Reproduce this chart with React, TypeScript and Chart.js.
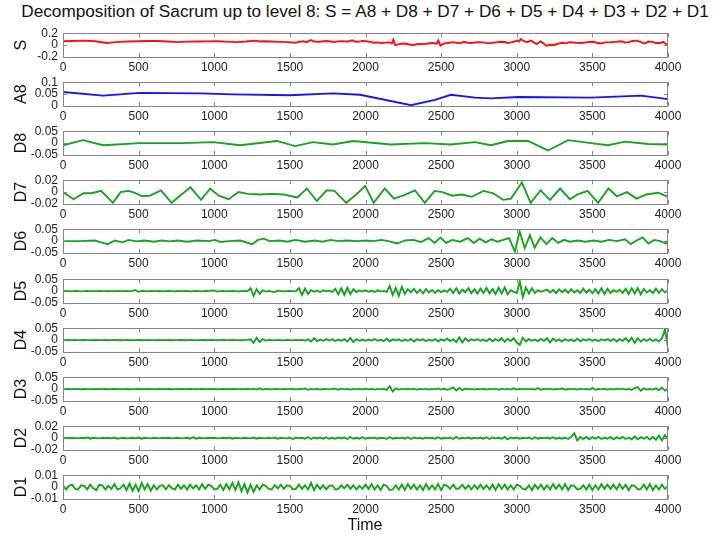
import React, { useEffect, useRef } from 'react';
import { Chart, registerables } from 'chart.js';

Chart.register(...registerables);

// ---------- data ----------
const X_MIN = 0;
const X_MAX = 4000;
const X_TICKS = [0, 500, 1000, 1500, 2000, 2500, 3000, 3500, 4000];

const TITLE = 'Decomposition of Sacrum up to level 8: S = A8 + D8 + D7 + D6 + D5 + D4 + D3 + D2 + D1';
const X_LABEL = 'Time';

const S_TICKS = [-0.2, 0, 0.2];
const A8_TICKS = [0, 0.05, 0.1];
const D8_TICKS = [-0.05, 0, 0.05];
const D7_TICKS = [-0.02, 0, 0.02];
const D6_TICKS = [-0.05, 0, 0.05];
const D5_TICKS = [-0.05, 0, 0.05];
const D4_TICKS = [-0.05, 0, 0.05];
const D3_TICKS = [-0.05, 0, 0.05];
const D2_TICKS = [-0.02, 0, 0.02];
const D1_TICKS = [-0.01, 0, 0.01];

// [time, value]
const S_POINTS: [number, number][] = [
  [0, .065], [60, .068], [135, .075], [213, .065], [291, .036], [330, .045], [368, .055], [430, .06], [498, .065],
  [560, .068], [628, .07], [690, .06], [757, .05], [820, .058], [887, .06], [950, .062], [1017, .065], [1080, .058],
  [1147, .05], [1210, .06], [1276, .075], [1300, .06], [1328, .065], [1380, .06], [1432, .055], [1490, .05],
  [1536, .04], [1560, .055], [1588, .065], [1610, .05], [1639, .085], [1660, .06], [1691, .055], [1720, .065],
  [1743, .07], [1770, .06], [1795, .05], [1820, .062], [1847, .065], [1880, .058], [1912, .08], [1930, .06],
  [1951, .055], [1980, .07], [2003, .065], [2030, .055], [2054, .04], [2080, .045], [2106, .036], [2130, .042],
  [2158, .045], [2175, .03], [2184, .09], [2197, 0], [2230, .02], [2262, .027], [2290, .01], [2314, .002],
  [2350, .02], [2392, .017], [2420, .03], [2444, .036], [2470, .025], [2482, .075], [2495, -.007], [2520, .03],
  [2547, .036], [2575, .05], [2599, .04], [2625, .03], [2651, .055], [2675, .04], [2703, .036], [2740, .05],
  [2781, .045], [2810, .03], [2833, .036], [2870, .05], [2911, .055], [2940, .035], [2962, .045], [2985, .06],
  [3001, .075], [3015, .06], [3027, .1], [3045, .07], [3066, .05], [3080, .06], [3092, .075], [3110, .05],
  [3131, .017], [3145, .04], [3157, .065], [3175, .03], [3196, -.012], [3220, .005], [3248, .002], [3275, .025],
  [3300, .04], [3325, .03], [3351, .05], [3390, .04], [3429, .036], [3470, .05], [3507, .055], [3530, .04],
  [3559, .027], [3585, .045], [3611, .045], [3650, .055], [3689, .065], [3715, .045], [3741, .05], [3765, .07],
  [3793, .075], [3820, .05], [3844, .027], [3870, .06], [3896, .055], [3920, .035], [3948, .036], [3970, .055],
  [3985, .02], [4000, .017],
];

const A8_POINTS: [number, number][] = [
  [0, .059], [264, .0435], [509, .055], [906, .053], [1124, .049], [1501, .045], [1785, .053], [1964, .047],
  [2301, .0035], [2459, .026], [2565, .047], [2724, .035], [2830, .032], [3008, .038], [3491, .035],
  [3821, .0435], [4000, .029],
];

const D8_POINTS: [number, number][] = [
  [0, -.009], [132, .0125], [264, -.009], [509, 0], [793, 0], [992, .004], [1170, -.009], [1415, .009],
  [1534, -.0125], [1653, .004], [1785, -.006], [1917, .009], [2168, -.006], [2393, 0], [2565, -.006],
  [2724, .004], [2830, -.009], [2942, .009], [3074, .009], [3207, -.031], [3339, .0125], [3491, 0],
  [3603, -.009], [3716, .006], [3868, -.004], [4000, -.006],
];

const D7_POINTS: [number, number][] = [
  [0, 0], [70, -.012], [135, -.002], [187, -.002], [252, .002], [330, -.018], [381, 0], [433, .002], [472, -.001],
  [524, -.007], [576, -.006], [648, .003], [718, -.018], [783, -.004], [843, .008], [913, -.013], [973, .006],
  [1030, -.006], [1095, -.012], [1160, 0], [1224, -.003], [1302, -.004], [1380, -.003], [1458, -.004],
  [1549, -.009], [1613, .006], [1678, -.015], [1743, .003], [1795, .002], [1873, -.018], [1938, -.004],
  [1998, .01], [2054, -.018], [2127, .006], [2189, -.011], [2256, -.005], [2327, .003], [2392, -.018],
  [2457, .002], [2509, 0], [2573, -.006], [2638, -.004], [2703, -.008], [2780, .002], [2845, -.002],
  [2910, -.013], [2962, -.011], [3034, .016], [3092, -.018], [3157, .003], [3220, -.013], [3287, .006],
  [3351, -.012], [3403, -.004], [3468, .002], [3538, -.018], [3606, .006], [3663, -.007], [3728, 0],
  [3792, -.011], [3857, -.004], [3935, -.001], [4000, -.008],
];

const D6_POINTS: [number, number][] = [
  [0, 0], [109, 0], [213, .0026], [252, -.0051], [296, -.0128], [342, .0026], [394, -.0051], [433, .0051],
  [485, -.0013], [537, .0026], [602, -.0026], [654, .0026], [706, -.0013], [757, .0026], [822, -.0026],
  [887, .0026], [965, 0], [1004, .0051], [1043, -.0038], [1095, 0], [1172, .0026], [1250, -.0128],
  [1289, .0051], [1328, .0102], [1367, 0], [1432, .0026], [1484, -.0026], [1536, .0051], [1601, -.0026],
  [1665, .0026], [1717, -.0026], [1769, .0051], [1821, 0], [1873, .0026], [1951, 0], [2003, .0026],
  [2054, 0], [2106, .0051], [2158, -.0013], [2210, -.0102], [2262, .0026], [2314, .0051], [2366, -.0038],
  [2418, .0128], [2457, -.0077], [2495, .0154], [2534, -.0077], [2573, .0051], [2625, -.0026], [2677, .0128],
  [2716, -.0077], [2755, .0102], [2794, -.0051], [2833, .0077], [2872, -.0026], [2911, .0051], [2950, .0128],
  [2988, -.045], [3019, .04], [3053, -.03], [3087, .025], [3118, -.028], [3157, .0154], [3196, -.0128],
  [3235, .0128], [3274, -.0077], [3313, .0051], [3351, -.0026], [3403, .0026], [3455, -.0026], [3507, .0026],
  [3559, -.0026], [3611, .0051], [3663, 0], [3715, .0077], [3754, -.0128], [3793, .0026], [3832, .0154],
  [3870, -.0102], [3909, .0051], [3948, 0], [3987, -.0102], [4000, .0051],
];

// evenly spaced samples from 0 to 4000
const D5_VALUES = [
  0, .001, 0, -.001, .001, 0, -.001, 0, .001, 0, 0, -.001, .001, 0, 0, .001, -.001, 0, .001, 0,
  0, .001, -.001, .002, .004, -.003, .001, 0, -.001, .001, 0, 0, .001, -.001, 0, .001, 0, -.001, .001, 0,
  0, .001, -.001, 0, .001, 0, -.001, .001, 0, .002, .003, -.002, 0, .001, -.001, 0, .001, 0, -.001, 0,
  .001, -.001, .012, -.02, .008, -.012, .003, -.002, .001, -.002, -.004, .002, .001, -.001, 0, .001, 0, -.001, .012, -.016,
  .011, -.012, .004, -.003, .002, -.004, .003, -.001, .002, -.003, .01, -.013, .012, -.016, .014, -.012, .008, -.004, .002, -.002,
  .003, -.003, .002, -.004, .003, -.002, .001, -.003, .022, -.016, .013, -.02, .018, -.012, .008, -.005, .01, -.008, .006, -.01,
  .009, -.006, .005, -.007, .004, -.004, .003, -.003, .01, -.008, .012, -.01, .006, -.004, .012, -.009, .008, -.01, .011, -.008,
  .013, -.01, .009, -.012, .014, -.01, .015, -.013, .004, -.003, -.008, .04, -.025, .015, -.01, .012, -.008, .004, -.003, .002,
  .006, -.006, .005, -.008, .007, -.005, .006, -.007, .008, -.006, .004, -.008, .01, -.007, .006, -.009, .008, -.01, .012, -.012,
  .01, -.008, .004, -.003, .006, -.008, .01, -.012, .012, -.01, .013, -.014, .009, -.006, .004, -.008, .01, -.008, .008, -.006, .004,
];

const D4_VALUES = [
  0, .0005, -.0005, 0, .0005, 0, -.0005, .0005, 0, 0, -.0005, .0005, 0, 0, .0005, -.0005, 0, .0005, 0, -.0005,
  0, .0005, -.0005, 0, 0, .0005, -.0005, 0, .0005, 0, 0, -.0005, .0005, 0, 0, .0005, -.0005, 0, 0, .0005,
  -.0005, 0, .0005, 0, -.0005, 0, .0005, -.0005, 0, .0005, 0, -.0005, 0, .0005, 0, -.0005, .0005, 0, 0, -.0005,
  0, .001, .003, -.012, .01, -.008, .004, -.002, .001, 0, -.001, .001, 0, -.001, .001, 0, -.001, .001, 0, .001,
  -.002, .003, -.006, .008, -.004, .002, -.003, .004, -.002, .003, -.004, .002, -.003, .004, -.006, .009, -.008, .004, -.003, .002,
  -.003, .002, -.002, .004, -.003, .002, -.004, .006, -.005, .003, -.002, .003, -.004, .002, -.003, .005, -.006, .004, -.002, .003,
  -.004, .002, -.003, .004, -.005, .003, -.002, .006, -.004, .003, -.008, .012, -.01, .008, -.004, .003, -.002, .004, -.003, .002,
  -.004, .006, -.005, .004, -.003, .008, -.007, .006, -.004, .008, -.01, -.02, .01, -.006, .004, -.003, .002, -.004, .005, -.003,
  .008, -.01, .006, -.004, .003, -.005, .004, -.003, .002, -.004, .006, -.005, .003, -.002, .004, -.003, .002, -.004, .003, -.002,
  .004, -.003, .005, -.006, .004, -.003, .008, -.006, .01, -.012, .008, -.006, .004, -.003, .005, -.004, .003, -.006, .008, .045, -.03,
];

const D3_VALUES = [
  0, .0005, -.0005, 0, .0005, 0, -.0005, .0005, 0, 0, -.0005, .0005, 0, 0, .0005, -.0005, 0, .0005, 0, -.0005,
  0, .0005, -.0005, 0, 0, .0005, -.0005, 0, .0005, 0, 0, -.0005, .0005, 0, 0, .0005, -.0005, 0, 0, .0005,
  -.0005, 0, .0005, 0, -.0005, 0, .0005, -.0005, 0, .0005, 0, -.0005, 0, .0005, 0, -.0005, .0005, 0, 0, -.0005,
  0, .001, -.001, .002, -.002, .003, -.002, .001, 0, -.001, .001, 0, -.001, .001, 0, 0, .002, -.002, .001, 0,
  .003, -.003, .001, -.001, .002, -.002, .001, 0, -.001, .001, .002, -.003, .002, -.001, .001, -.002, .001, -.001, .002, -.002,
  .002, -.001, .001, -.002, .001, -.001, .002, -.003, .012, -.01, .003, -.002, .001, -.001, .002, -.001, .001, -.002, .001, -.001,
  .002, -.002, .001, -.001, .003, -.002, .002, -.003, .001, .007, -.006, .005, -.004, .002, -.001, .001, -.002, .001, -.001, .002,
  -.002, .001, -.001, .002, -.003, .002, -.001, .001, -.002, .003, -.002, .001, -.001, .002, -.001, .001, -.002, .004, -.003, .002,
  -.001, .002, -.002, .001, -.001, .003, -.003, .002, -.001, .001, -.002, .002, -.001, .001, -.002, .004, -.003, .001, -.001, .002,
  -.002, .001, -.001, .002, -.001, .002, -.002, .001, -.003, .004, .008, -.007, .003, -.002, .001, -.002, .003, -.004, .006, -.006, .002,
];

const D2_VALUES = [
  0, .0005, -.0005, .0005, 0, -.0005, .0005, 0, .001, -.001, .0005, 0, -.0005, .0005, 0, .0005, -.0005, .001, -.001, 0,
  .0005, -.0005, 0, .0005, -.0005, .001, -.001, .0005, 0, -.0005, .0005, 0, -.0005, .0005, 0, .0005, -.0005, 0, .0005, -.0005,
  0, .0005, -.001, .0015, -.001, .0005, 0, -.0005, .0005, 0, .0005, -.0005, 0, .0005, -.0005, .001, -.001, .0005, 0, -.0005,
  .0005, 0, -.0005, .001, -.001, .0005, 0, -.0005, .0005, -.0005, .001, -.001, .0005, 0, -.0005, .001, -.0015, .001, -.0005, .0005,
  -.001, .0015, -.0015, .001, -.0005, .001, -.001, .0015, -.001, .0005, -.001, .001, -.0005, .001, -.0015, .002, -.001, .0005, -.001, .0015,
  -.001, .0005, -.0005, .001, -.001, .0005, 0, -.001, .0015, -.001, .0005, -.0005, .001, -.001, .0015, -.0015, .001, -.0005, .0005, -.001,
  .001, -.0005, .0005, -.001, .0015, -.001, .0005, -.0005, .001, -.0015, .002, -.001, .0005, -.0005, .001, -.001, .0005, -.0005, .001, -.001,
  .0015, -.0015, .001, -.0005, .0005, -.001, .002, -.002, .001, -.0005, .001, -.001, .0005, -.0005, .001, -.0015, .0015, -.001, .0005, -.0005,
  .001, -.001, .0015, -.001, .0005, -.001, .001, -.0015, .002, .008, -.004, .002, -.0015, .002, -.002, .0015, -.001, .002, -.0015, .001,
  -.001, .0015, -.002, .0015, -.001, .002, -.0015, .001, -.002, .0025, -.002, .0015, -.001, .002, -.0025, .002, -.003, .004, -.004, .005, -.002,
];

const D1_VALUES = [
  .0015, -.002, .001, .002, -.0015, -.002, .0015, .001, -.002, .002, -.001, -.0025, .002, .0015, -.002, .001, -.0015, .0025, -.002, -.001,
  .002, -.0025, .003, -.003, .002, -.0035, .0035, -.002, .0025, -.003, .0015, -.002, .001, .0015, -.002, .0015, -.001, -.002, .002, -.0015,
  .0015, -.002, .002, -.001, .0015, -.002, .0025, -.0015, .002, .001, -.002, -.0015, .002, -.0025, .0025, -.002, .0035, -.0025, .004, -.0035,
  .0025, -.0045, .002, -.004, .0015, -.002, .002, .001, -.0015, -.002, .0015, -.001, .002, -.0015, .0015, .001, -.002, -.0015, .002, -.0015,
  .0015, -.002, .0035, -.0025, .002, -.0015, .0015, -.002, .001, .0015, -.002, -.0015, .0015, -.001, .002, -.0015, .0015, -.002, .001, -.0015,
  .002, -.0015, .0025, -.002, .0015, -.0025, .002, .001, -.0025, -.002, .0015, -.002, .002, -.0025, .0025, -.0015, .002, -.002, .0015, -.0025,
  .0025, -.002, .0015, -.002, .0025, -.0025, .002, .001, -.0015, .002, -.0015, -.001, .002, -.0015, .0015, -.002, .0015, -.0015, .002, -.0015,
  .0015, -.002, .002, -.0025, .0025, -.0015, .002, -.002, .0015, -.002, .002, .001, -.0015, -.002, .0015, -.0025, .002, -.0015, .002, -.002,
  .0015, -.002, .0025, -.0015, .002, -.002, .0025, -.0025, .0015, .001, -.002, -.0015, .0015, -.002, .002, -.0025, .0015, -.002, .0025, -.0015,
  .002, -.0015, .002, -.002, .0025, -.0015, .002, -.0025, .0015, .001, -.002, -.0015, .002, -.002, .0025, -.0025, .0015, -.002, .002, -.0015, .001,
];

// ---------- styling / layout ----------
const RED = '#ff0d0d';
const BLUE = '#1414ff';
const GREEN = '#16a41f';
const FONT = "'Liberation Sans', Arial, sans-serif";

const PLOT_LEFT = 63;
const PLOT_RIGHT = 668;
const PLOT_HEIGHT = 27;
const PAD_TOP = 9;
const XAXIS_H = 17;
const WIDTH = 718;
const PLOT_TOPS = [30, 79, 128, 177, 226, 276, 325, 374, 423, 472];

type PanelDef = {
  label: string;
  color: string;
  ticks: number[];
  points?: [number, number][];
  values?: number[];
};

const PANELS: PanelDef[] = [
  { label: 'S', color: RED, ticks: S_TICKS, points: S_POINTS },
  { label: 'A8', color: BLUE, ticks: A8_TICKS, points: A8_POINTS },
  { label: 'D8', color: GREEN, ticks: D8_TICKS, points: D8_POINTS },
  { label: 'D7', color: GREEN, ticks: D7_TICKS, points: D7_POINTS },
  { label: 'D6', color: GREEN, ticks: D6_TICKS, points: D6_POINTS },
  { label: 'D5', color: GREEN, ticks: D5_TICKS, values: D5_VALUES },
  { label: 'D4', color: GREEN, ticks: D4_TICKS, values: D4_VALUES },
  { label: 'D3', color: GREEN, ticks: D3_TICKS, values: D3_VALUES },
  { label: 'D2', color: GREEN, ticks: D2_TICKS, values: D2_VALUES },
  { label: 'D1', color: GREEN, ticks: D1_TICKS, values: D1_VALUES },
];

const boxPlugin = {
  id: 'matlabBox',
  afterDatasetsDraw(chart: any) {
    const { ctx, chartArea } = chart;
    const { left, right, top, bottom } = chartArea;
    const xs = chart.scales.x;
    const ys = chart.scales.y;
    ctx.save();
    ctx.strokeStyle = '#858585';
    ctx.lineWidth = 1;
    ctx.strokeRect(Math.round(left) + 0.5, Math.round(top) + 0.5, Math.round(right - left) - 1, Math.round(bottom - top));
    ctx.beginPath();
    for (const t of xs.ticks) {
      const px = Math.round(xs.getPixelForValue(t.value)) + 0.5;
      ctx.moveTo(px, bottom);
      ctx.lineTo(px, bottom - 4);
      ctx.moveTo(px, top);
      ctx.lineTo(px, top + 4);
    }
    for (const t of ys.ticks) {
      const py = Math.round(ys.getPixelForValue(t.value)) + 0.5;
      ctx.moveTo(left, py);
      ctx.lineTo(left + 4, py);
      ctx.moveTo(right, py);
      ctx.lineTo(right - 4, py);
    }
    ctx.stroke();
    ctx.restore();
  },
};

const fmt = (v: number) => String(Math.round(v * 1e6) / 1e6);

function Panel({ def, top }: { def: PanelDef; top: number }) {
  const ref = useRef<HTMLCanvasElement>(null);
  const height = PAD_TOP + PLOT_HEIGHT + XAXIS_H;

  useEffect(() => {
    if (!ref.current) return;
    const data = def.points
      ? def.points.map(([x, y]) => ({ x, y }))
      : (def.values || []).map((y, i, arr) => ({ x: X_MIN + (i * (X_MAX - X_MIN)) / (arr.length - 1), y }));
    const yt = def.ticks;
    const chart = new Chart(ref.current, {
      type: 'line',
      data: {
        datasets: [
          {
            data,
            borderColor: def.color,
            borderWidth: 1.9,
            pointRadius: 0,
            tension: 0,
            fill: false,
          },
        ],
      },
      options: {
        animation: false,
        responsive: false,
        devicePixelRatio: 1,
        events: [],
        layout: { padding: { top: PAD_TOP, right: WIDTH - PLOT_RIGHT, left: 0, bottom: 0 } },
        plugins: { legend: { display: false }, tooltip: { enabled: false }, title: { display: false } },
        scales: {
          x: {
            type: 'linear',
            min: X_MIN,
            max: X_MAX,
            grid: { display: false, drawTicks: false },
            border: { display: false },
            afterBuildTicks: (s: any) => {
              s.ticks = X_TICKS.map((v) => ({ value: v }));
            },
            afterFit: (s: any) => {
              s.height = XAXIS_H;
            },
            ticks: {
              autoSkip: false,
              maxRotation: 0,
              minRotation: 0,
              padding: 3,
              color: '#222',
              font: { family: FONT, size: 12 },
              callback: (v: any) => String(v),
            },
          },
          y: {
            type: 'linear',
            min: yt[0],
            max: yt[yt.length - 1],
            grid: { display: false, drawTicks: false },
            border: { display: false },
            afterBuildTicks: (s: any) => {
              s.ticks = yt.map((v) => ({ value: v }));
            },
            afterFit: (s: any) => {
              s.width = PLOT_LEFT;
            },
            title: {
              display: true,
              text: def.label,
              color: '#111',
              font: { family: FONT, size: 16 },
              padding: { top: 12, bottom: 0 },
            },
            ticks: {
              autoSkip: false,
              padding: 5,
              color: '#222',
              font: { family: FONT, size: 12 },
              callback: (v: any) => fmt(Number(v)),
            },
          },
        },
      },
      plugins: [boxPlugin],
    } as any);
    return () => chart.destroy();
  }, [def]);

  return (
    <div style={{ position: 'absolute', left: 0, top: top - PAD_TOP, width: WIDTH, height }}>
      <canvas ref={ref} width={WIDTH} height={height} style={{ width: WIDTH, height, display: 'block' }} />
    </div>
  );
}

export default function App() {
  return (
    <div
      style={{
        position: 'absolute',
        left: 0,
        top: 0,
        width: WIDTH,
        height: 541,
        background: '#fff',
        overflow: 'hidden',
        fontFamily: FONT,
      }}
    >
      <div
        style={{
          position: 'absolute',
          left: 0,
          top: 1,
          width: WIDTH + 6,
          textAlign: 'center',
          fontSize: 17.2,
          lineHeight: '20px',
          color: '#111',
          whiteSpace: 'nowrap',
          paddingLeft: 6,
          boxSizing: 'border-box',
        }}
      >
        {TITLE}
      </div>
      {PANELS.map((p, i) => (
        <Panel key={p.label} def={p} top={PLOT_TOPS[i]} />
      ))}
      <div
        style={{
          position: 'absolute',
          left: 0,
          top: 515,
          width: 730,
          textAlign: 'center',
          fontSize: 16,
          lineHeight: '20px',
          color: '#111',
        }}
      >
        {X_LABEL}
      </div>
    </div>
  );
}
